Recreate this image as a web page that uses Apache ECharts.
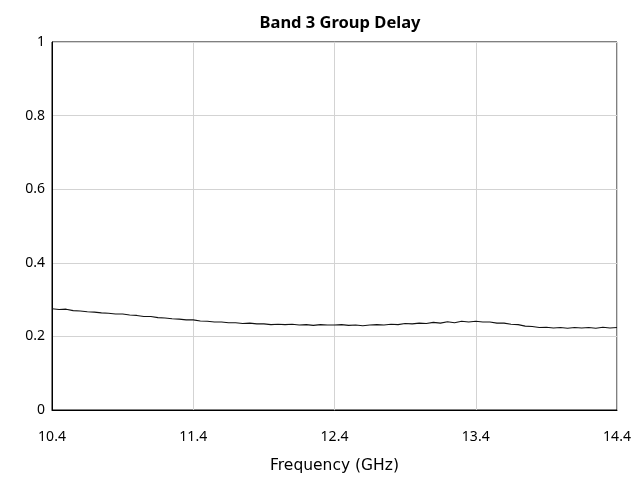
<!DOCTYPE html>
<html>
<head>
<meta charset="utf-8">
<script src="https://cdn.jsdelivr.net/npm/echarts@6/dist/echarts.min.js"></script>
<style>html,body{margin:0;padding:0;background:#fff}#c{width:636px;height:481px}</style>
</head>
<body>
<div id="c"></div>
<script>
var titleText = "Band 3 Group Delay";
var xName = "Frequency (GHz)";
var freqs = [10.40,10.45,10.50,10.55,10.60,10.65,10.70,10.75,10.80,10.85,10.90,10.95,
11.00,11.05,11.10,11.15,11.20,11.25,11.30,11.35,11.40,11.45,11.50,11.55,11.60,11.65,11.70,11.75,11.80,11.85,11.90,11.95,
12.00,12.05,12.10,12.15,12.20,12.25,12.30,12.35,12.40,12.45,12.50,12.55,12.60,12.65,12.70,12.75,12.80,12.85,12.90,12.95,
13.00,13.05,13.10,13.15,13.20,13.25,13.30,13.35,13.40,13.45,13.50,13.55,13.60,13.65,13.70,13.75,13.80,13.85,13.90,13.95,
14.00,14.05,14.10,14.15,14.20,14.25,14.30,14.35,14.40];
var delay = [0.275,0.273,0.274,0.270,0.269,0.267,0.266,0.264,0.263,0.261,0.261,0.258,
0.257,0.254,0.254,0.251,0.250,0.248,0.247,0.245,0.245,0.242,0.241,0.239,0.239,0.237,0.237,0.235,0.236,0.234,0.234,0.232,
0.233,0.232,0.233,0.231,0.232,0.230,0.232,0.231,0.231,0.232,0.230,0.231,0.229,0.231,0.232,0.231,0.233,0.232,0.235,0.234,
0.236,0.235,0.238,0.236,0.240,0.237,0.241,0.239,0.241,0.239,0.239,0.236,0.236,0.233,0.232,0.228,0.227,0.224,0.225,0.223,
0.224,0.222,0.224,0.223,0.224,0.222,0.225,0.223,0.224];
var xTicks = [10.4, 11.4, 12.4, 13.4, 14.4];
var yTicks = [0, 0.2, 0.4, 0.6, 0.8, 1];

var data = freqs.map(function(f, i){ return [f, delay[i]]; });
var font = "'Noto Sans', sans-serif";
var chart = echarts.init(document.getElementById('c'));
chart.setOption({
  animation: false,
  backgroundColor: '#fff',
  title: { text: titleText, left: 335, textAlign: 'center', top: 10,
    textStyle: { fontFamily: font, fontSize: 16.5, fontWeight: 'bold', color: '#000' } },
  grid: { left: 52, right: 19, top: 42, bottom: 71, show: true, borderColor: '#000', borderWidth: 1, containLabel: false },
  xAxis: {
    type: 'value', min: xTicks[0], max: xTicks[xTicks.length-1], interval: 1,
    name: xName, nameLocation: 'middle', nameGap: 48,
    nameTextStyle: { fontFamily: "'DejaVu Sans', sans-serif", fontSize: 15.5, color: '#000' },
    axisLine: { show: true, lineStyle: { color: '#000' } },
    axisTick: { show: false },
    axisLabel: { fontFamily: font, fontSize: 14, color: '#000', margin: 20,
      formatter: function(v){ return v.toFixed(1); } },
    splitLine: { show: true, lineStyle: { color: '#d3d3d3', width: 1 } }
  },
  yAxis: {
    type: 'value', min: yTicks[0], max: yTicks[yTicks.length-1], interval: 0.2,
    axisLine: { show: true, lineStyle: { color: '#000' } },
    axisTick: { show: false },
    axisLabel: { fontFamily: font, fontSize: 14, color: '#000', margin: 7,
      formatter: function(v){ return String(Math.round(v*10)/10); } },
    splitLine: { show: true, lineStyle: { color: '#d3d3d3', width: 1 } }
  },
  series: [{
    type: 'line', data: data, showSymbol: false, symbol: 'none',
    lineStyle: { color: '#111', width: 1.1 }
  }]
});
</script>
</body>
</html>
